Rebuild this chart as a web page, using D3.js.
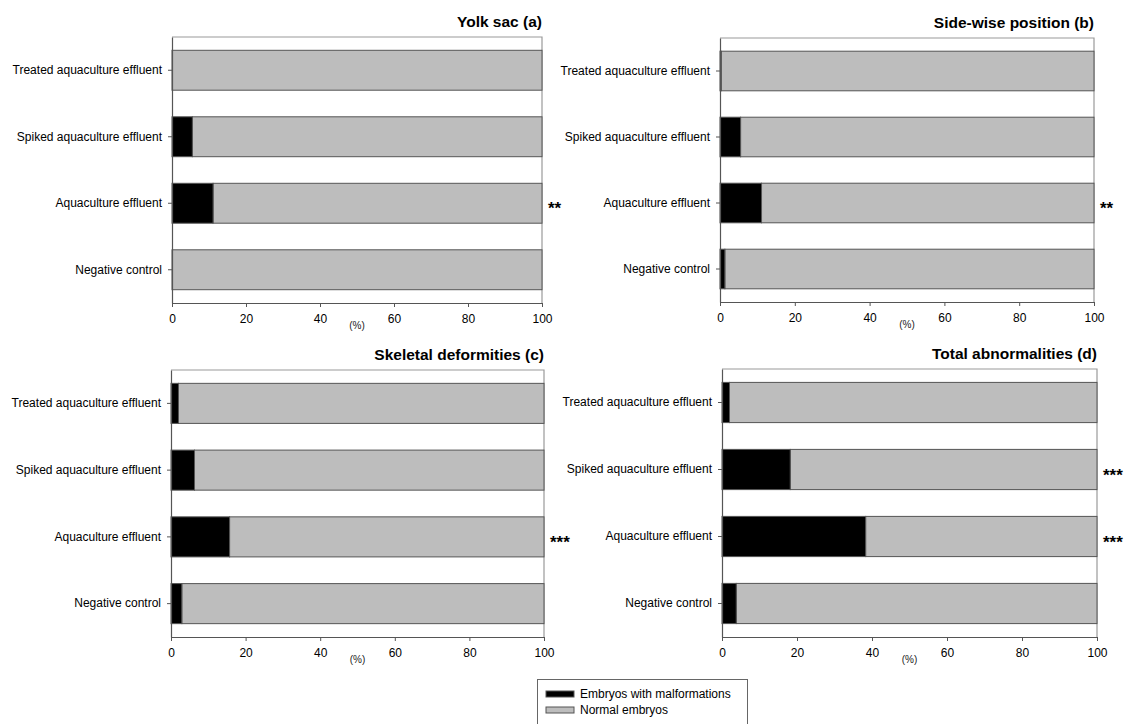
<!DOCTYPE html>
<html>
<head>
<meta charset="utf-8">
<script src="https://cdn.jsdelivr.net/npm/d3@7"></script>
<style>
  html, body { margin: 0; padding: 0; background: #fff; }
  svg { display: block; font-family: "Liberation Sans", Arial, sans-serif; }
</style>
</head>
<body>
<svg id="chart" width="1129" height="724"></svg>
<script>
const categories = ["Treated aquaculture effluent", "Spiked aquaculture effluent", "Aquaculture effluent", "Negative control"];
const xTicks = [0, 20, 40, 60, 80, 100];
const seriesNames = ["Embryos with malformations", "Normal embryos"];

const yolkSac = [0, 5.5, 11.1, 0];
const sideWise = [0.3, 5.5, 11.1, 1.3];
const skeletal = [2.0, 6.3, 15.7, 2.9];
const total = [2.0, 18.2, 38.3, 3.8];

const yolkSig = ["", "", "**", ""];
const sideSig = ["", "", "**", ""];
const skeletalSig = ["", "", "***", ""];
const totalSig = ["", "***", "***", ""];

const titles = ["Yolk sac (a)", "Side-wise position (b)", "Skeletal deformities (c)", "Total abnormalities (d)"];

const panels = [
  { title: titles[0], values: yolkSac, sig: yolkSig, x0: 172, x1: 542, top: 37, bottom: 303 },
  { title: titles[1], values: sideWise, sig: sideSig, x0: 720, x1: 1094, top: 38, bottom: 302 },
  { title: titles[2], values: skeletal, sig: skeletalSig, x0: 171, x1: 544, top: 370, bottom: 637 },
  { title: titles[3], values: total, sig: totalSig, x0: 722, x1: 1097, top: 369, bottom: 637 }
];

const colors = { mal: "#000000", normal: "#bdbdbd", barStroke: "#555555", frame: "#9a9a9a", axis: "#555555" };

const svg = d3.select("#chart");

panels.forEach(p => {
  const g = svg.append("g");
  const x = d3.scaleLinear().domain([0, 100]).range([p.x0, p.x1]);
  const y = d3.scaleBand().domain(categories).range([p.top, p.bottom]).paddingInner(0.4).paddingOuter(0.2);

  // frame (top & right)
  g.append("path")
    .attr("d", `M${p.x0},${p.top}H${p.x1}V${p.bottom}`)
    .attr("fill", "none").attr("stroke", colors.frame).attr("stroke-width", 1.2);

  const data = categories.map((c, i) => ({ cat: c, mal: p.values[i], sig: p.sig[i] }));

  // normal (gray) part
  g.selectAll(".normal").data(data).enter().append("rect")
    .attr("x", d => x(d.mal)).attr("y", d => y(d.cat))
    .attr("width", d => x(100) - x(d.mal)).attr("height", y.bandwidth())
    .attr("fill", colors.normal).attr("stroke", colors.barStroke).attr("stroke-width", 1);

  // malformation (black) part
  g.selectAll(".mal").data(data.filter(d => d.mal > 0)).enter().append("rect")
    .attr("x", x(0)).attr("y", d => y(d.cat))
    .attr("width", d => x(d.mal) - x(0)).attr("height", y.bandwidth())
    .attr("fill", colors.mal).attr("stroke", colors.barStroke).attr("stroke-width", 1);

  // x axis
  const xa = g.append("g").attr("transform", `translate(0,${p.bottom})`)
    .call(d3.axisBottom(x).tickValues(xTicks).tickSize(4).tickPadding(7).tickSizeOuter(0));
  xa.select(".domain").attr("stroke", colors.axis).attr("stroke-width", 1.2);
  xa.selectAll(".tick line").attr("stroke", colors.axis);
  xa.selectAll("text").attr("font-size", 12).attr("fill", "#000")
    .attr("font-family", "'Liberation Sans', Arial, sans-serif");

  // y axis
  const ya = g.append("g").attr("transform", `translate(${p.x0},0)`)
    .call(d3.axisLeft(y).tickSize(4).tickPadding(6).tickSizeOuter(0));
  ya.select(".domain").attr("stroke", colors.axis).attr("stroke-width", 1.2);
  ya.selectAll(".tick line").attr("stroke", colors.axis);
  ya.selectAll("text").attr("font-size", 12).attr("fill", "#000")
    .attr("font-family", "'Liberation Sans', Arial, sans-serif");

  // unit label
  g.append("text").attr("x", x(50)).attr("y", p.bottom + 26)
    .attr("text-anchor", "middle").attr("font-size", 10).attr("fill", "#222").text("(%)");

  // title
  g.append("text").attr("x", p.x1).attr("y", p.top - 10)
    .attr("text-anchor", "end").attr("font-size", 15.5).attr("font-weight", "bold").text(p.title);

  // significance stars
  g.selectAll(".sig").data(data.filter(d => d.sig)).enter().append("text")
    .attr("x", x(100) + 6).attr("y", d => y(d.cat) + y.bandwidth() / 2 + 11)
    .attr("font-size", 17).attr("font-weight", "bold").text(d => d.sig);
});

// legend
const lg = svg.append("g");
lg.append("rect").attr("x", 537.5).attr("y", 679.5).attr("width", 210).attr("height", 60)
  .attr("fill", "#fff").attr("stroke", "#666").attr("stroke-width", 1);
const legendColors = [colors.mal, colors.normal];
seriesNames.forEach((name, i) => {
  lg.append("rect").attr("x", 546).attr("y", 691 + i * 16).attr("width", 28).attr("height", 6)
    .attr("fill", legendColors[i]).attr("stroke", colors.barStroke).attr("stroke-width", 1);
  lg.append("text").attr("x", 580).attr("y", 694 + i * 16).attr("dy", "0.35em")
    .attr("font-size", 12).text(name);
});
</script>
</body>
</html>
